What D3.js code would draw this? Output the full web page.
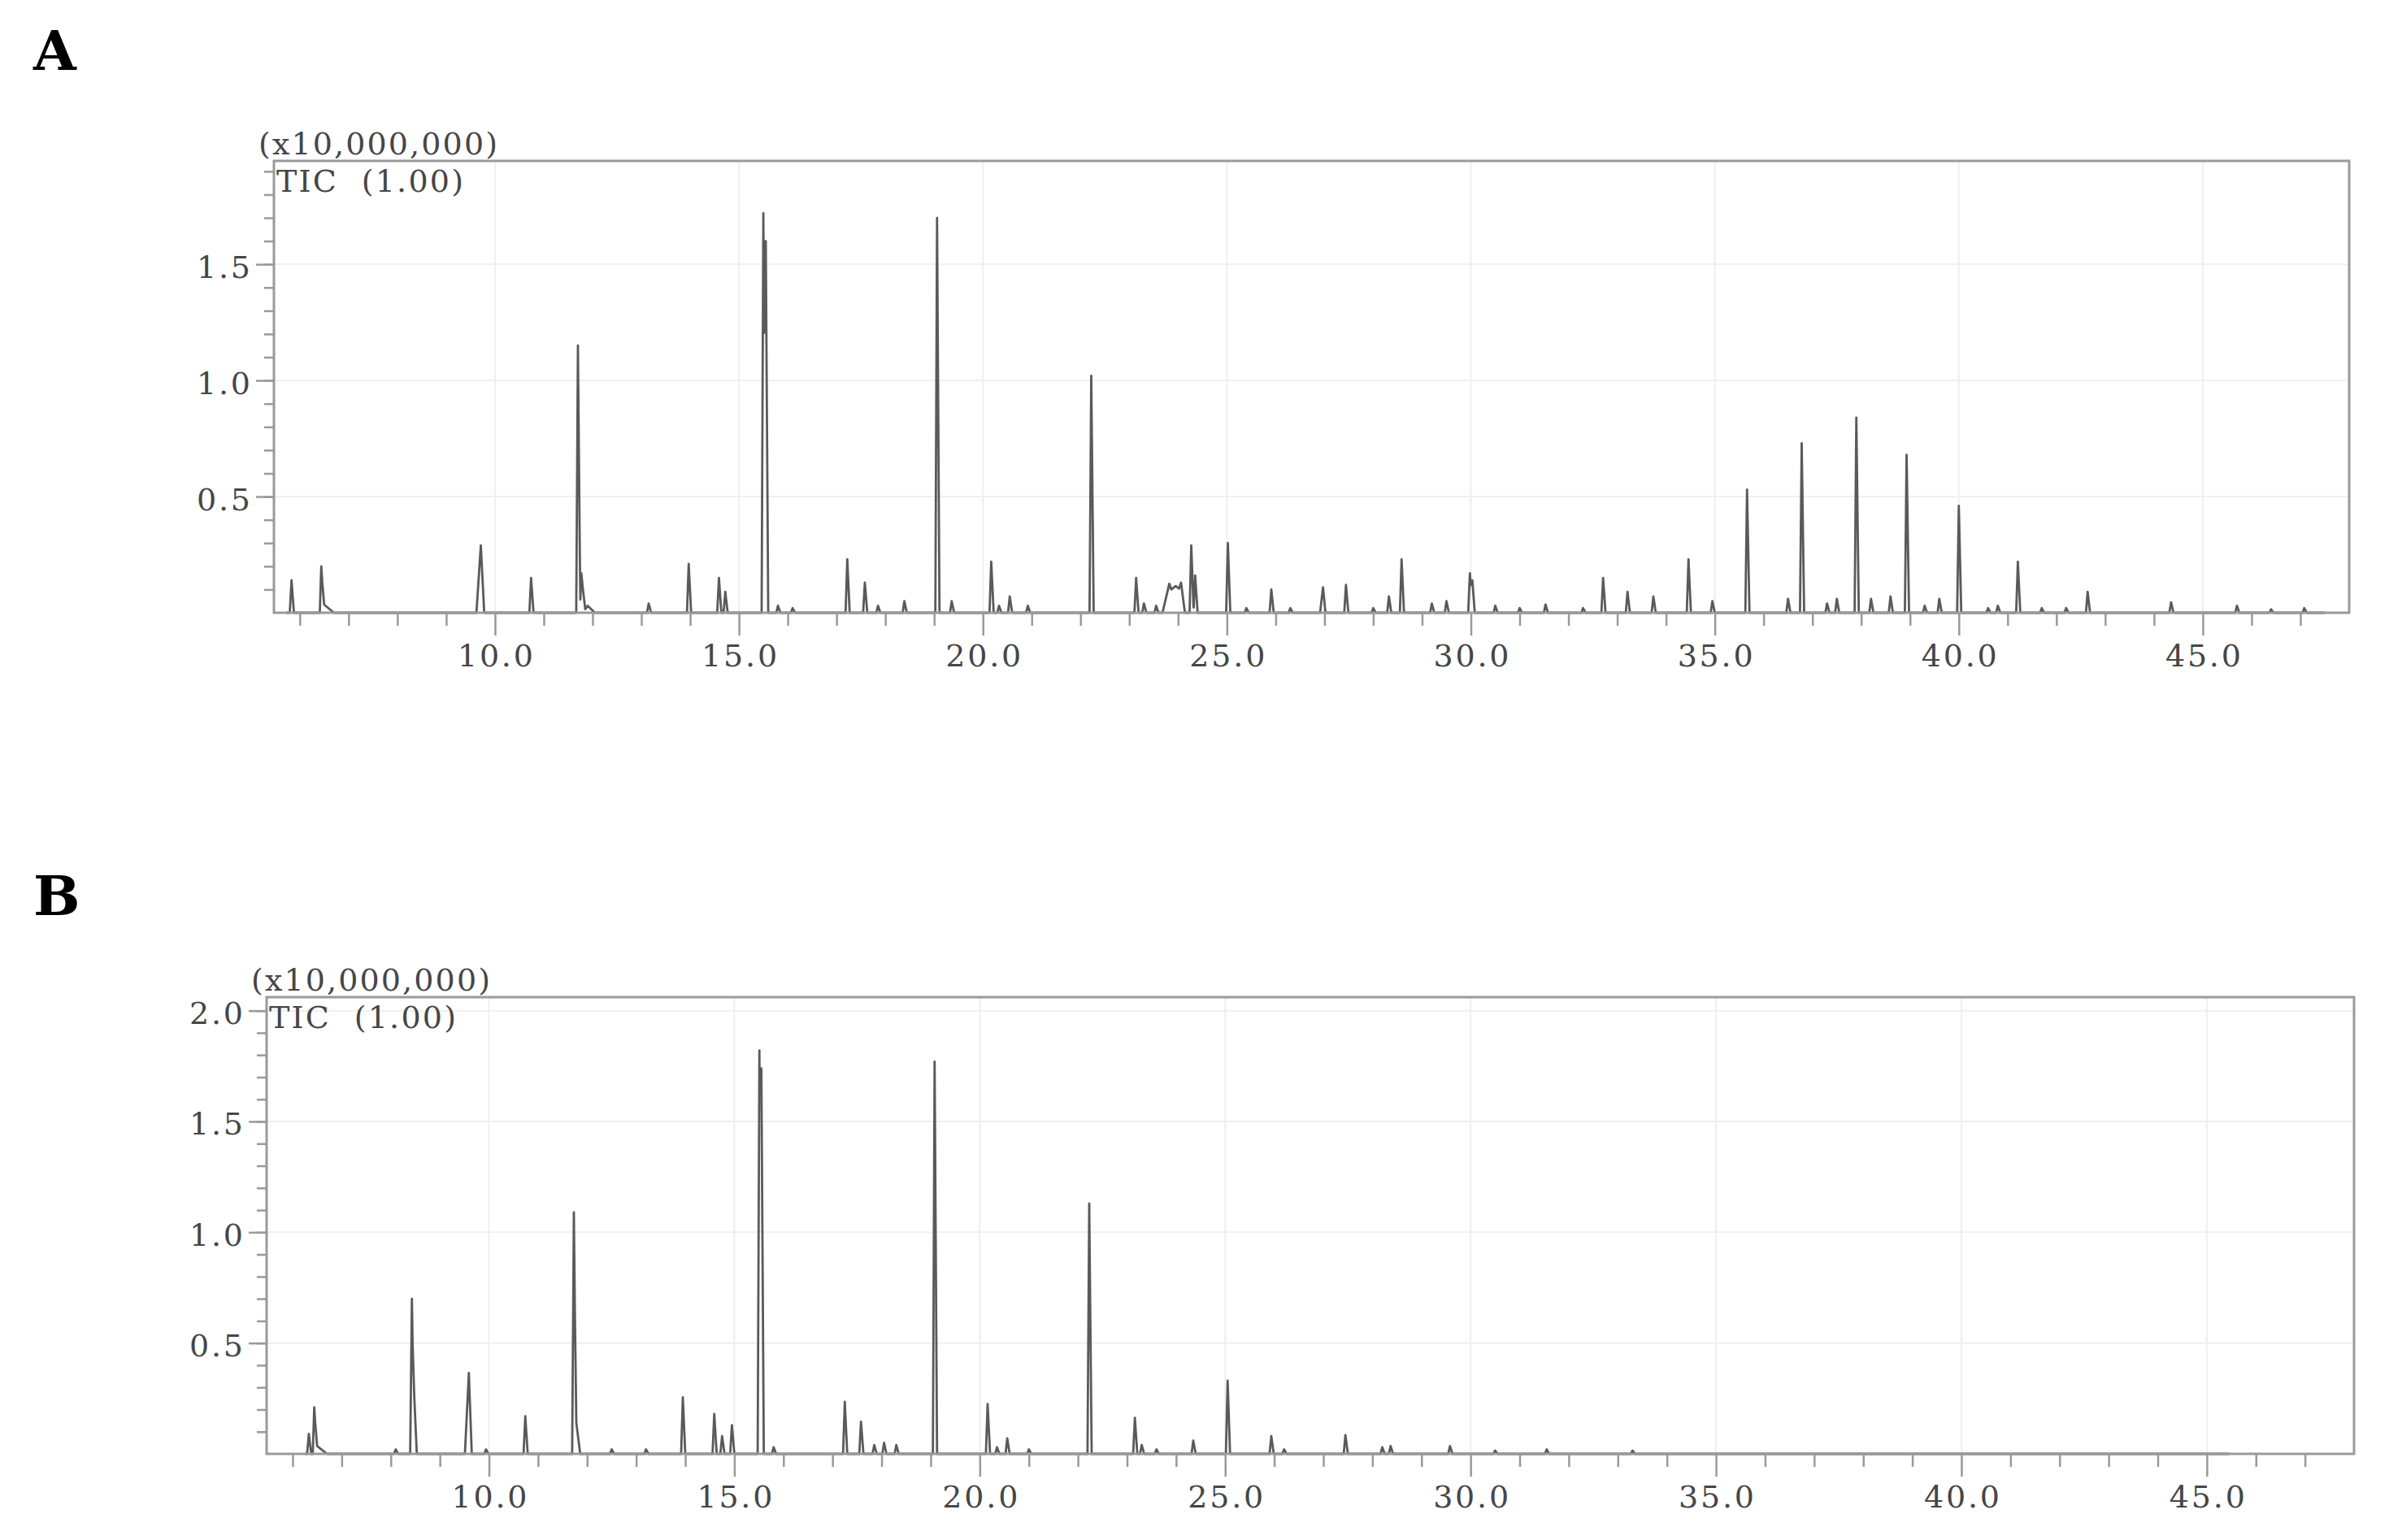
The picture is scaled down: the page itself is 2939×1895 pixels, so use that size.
<!DOCTYPE html>
<html>
<head>
<meta charset="utf-8">
<script src="https://cdn.jsdelivr.net/npm/d3@7"></script>
<style>
  body { margin: 0; background: #fff; }
  text { font-family: "DejaVu Serif", "Liberation Serif", serif; }
</style>
</head>
<body>
<svg id="chart"></svg>
<script>
// retention time (min), intensity (x10,000,000)
const peaksA = [
  [5.83, 0.14], [6.44, 0.20], [6.50, 0.035], [9.71, 0.29], [10.74, 0.15],
  [11.70, 1.15], [11.77, 0.17], [11.9, 0.03], [13.15, 0.04], [13.97, 0.21],
  [14.59, 0.15], [14.72, 0.09], [15.50, 1.72], [15.55, 1.60], [15.80, 0.03],
  [16.1, 0.02], [17.22, 0.23], [17.58, 0.13], [17.85, 0.03], [18.39, 0.05],
  [19.06, 1.70], [19.36, 0.05], [20.17, 0.22], [20.33, 0.03], [20.55, 0.07],
  [20.92, 0.03], [22.22, 1.02], [23.14, 0.15], [23.30, 0.04], [23.55, 0.03],
  [23.82, 0.125], [23.95, 0.115], [24.06, 0.13], [24.27, 0.29],
  [24.35, 0.16], [25.02, 0.30], [25.4, 0.02], [25.91, 0.10], [26.3, 0.02],
  [26.97, 0.11], [27.44, 0.12], [28.0, 0.02], [28.32, 0.07], [28.58, 0.23],
  [29.2, 0.04], [29.5, 0.05], [29.98, 0.17], [30.03, 0.14], [30.5, 0.03],
  [31.0, 0.02], [31.53, 0.035], [32.3, 0.02], [32.71, 0.15], [33.21, 0.09],
  [33.74, 0.07], [34.46, 0.23], [34.95, 0.05], [35.66, 0.53], [36.5, 0.06],
  [36.78, 0.73], [37.3, 0.04], [37.5, 0.06], [37.9, 0.84], [38.2, 0.06],
  [38.6, 0.07], [38.93, 0.68], [39.3, 0.03], [39.6, 0.06], [40.0, 0.46],
  [40.6, 0.02], [40.8, 0.03], [41.21, 0.22], [41.7, 0.02], [42.2, 0.02],
  [42.64, 0.09], [44.35, 0.045], [45.7, 0.03], [46.4, 0.015], [47.08, 0.02]
];
const peaksB = [
  [6.33, 0.09], [6.44, 0.21], [6.50, 0.035], [8.1, 0.02], [8.43, 0.70],
  [8.48, 0.25], [9.59, 0.365], [9.94, 0.02], [10.74, 0.17], [11.73, 1.09],
  [11.78, 0.14], [12.5, 0.02], [13.2, 0.02], [13.95, 0.255], [14.59, 0.18],
  [14.75, 0.08], [14.95, 0.13], [15.51, 1.82], [15.55, 1.74], [15.8, 0.03],
  [17.25, 0.235], [17.58, 0.145], [17.85, 0.04], [18.05, 0.05], [18.3, 0.04],
  [19.08, 1.77], [20.16, 0.225], [20.35, 0.03], [20.56, 0.07], [21.0, 0.02],
  [22.23, 1.13], [23.16, 0.163], [23.3, 0.04], [23.6, 0.02], [24.35, 0.06],
  [25.05, 0.33], [25.94, 0.08], [26.2, 0.02], [27.45, 0.085], [28.2, 0.03],
  [28.37, 0.035], [29.58, 0.035], [30.5, 0.015], [31.55, 0.02], [33.3, 0.015]
];
// broader / tailing peaks: [front width, tail width] in min
const peakWidthA = { 6.44: [0.03, 0.06], 6.50: [0.04, 0.2], 9.71: [0.09, 0.07], 11.77: [0.03, 0.08],
  11.9: [0.1, 0.15], 23.82: [0.14, 0.2], 23.95: [0.15, 0.15], 24.06: [0.2, 0.08], 26.97: [0.06, 0.05] };
const peakWidthB = { 6.44: [0.03, 0.06], 6.50: [0.04, 0.2], 9.59: [0.08, 0.06], 11.78: [0.03, 0.08] };
const runA = [5.72, 47.5];
const runB = [6.25, 45.45];

const timeDomain = [5.47, 48.0];
const timeTicks = [10, 15, 20, 25, 30, 35, 40, 45];
const timeMinor = d3.range(6, 48).filter(t => t % 5 !== 0);
const yTicksA = [0.5, 1.0, 1.5];
const yTicksB = [0.5, 1.0, 1.5, 2.0];
const unitLabel = "(x10,000,000)";
const traceLabel = "TIC  (1.00)";

const svg = d3.select("#chart").attr("width", 2939).attr("height", 1895);
svg.append("rect").attr("width", 2939).attr("height", 1895).attr("fill", "#fff");

const panels = [
  { name: "A", peaks: peaksA, widths: peakWidthA, run: runA, yTicks: yTicksA, yTop: 1.945,
    l: 337, r: 2890, t: 198, b: 754, nameY: 86 },
  { name: "B", peaks: peaksB, widths: peakWidthB, run: runB, yTicks: yTicksB, yTop: 2.061,
    l: 328, r: 2896, t: 1227, b: 1789, nameY: 1126 }
];

const fmt = d => d3.format(".1f")(d);
const txt = "#464646";
const axisCol = "#9a9a9a";

function tracePoints(p) {
  const shape = p.peaks.map(([t, h]) => {
    const w = p.widths[t] || [0.035, 0.05];
    return { t, h, wl: w[0], wr: w[1] };
  });
  const level = s => Math.max(0, d3.max(shape, k =>
    s <= k.t ? k.h * (1 - (k.t - s) / k.wl) : k.h * (1 - (s - k.t) / k.wr)));
  let ts = [p.run[0], p.run[1]];
  shape.forEach(k => ts.push(k.t - k.wl, k.t, k.t + k.wr));
  ts = Array.from(new Set(ts.filter(s => s >= p.run[0] && s <= p.run[1]))).sort((a, b) => a - b);
  return ts.map(s => [s, level(s)]);
}

panels.forEach(p => {
  const g = svg.append("g");
  const x = d3.scaleLinear().domain(timeDomain).range([p.l, p.r]);
  const y = d3.scaleLinear().domain([0, p.yTop]).range([p.b, p.t]);

  // faint grid
  g.append("g").selectAll("line").data(timeTicks).join("line")
    .attr("x1", d => x(d)).attr("x2", d => x(d)).attr("y1", p.t).attr("y2", p.b)
    .attr("stroke", "#efefef").attr("stroke-width", 2);
  g.append("g").selectAll("line").data(p.yTicks).join("line")
    .attr("x1", p.l).attr("x2", p.r).attr("y1", d => y(d)).attr("y2", d => y(d))
    .attr("stroke", "#efefef").attr("stroke-width", 2);

  // trace
  g.append("path").datum(tracePoints(p))
    .attr("d", d3.line().x(d => x(d[0])).y(d => y(d[1])))
    .attr("fill", "none").attr("stroke", "#5a5a5a").attr("stroke-width", 2.8)
    .attr("stroke-linejoin", "round");

  // frame
  g.append("rect").attr("x", p.l).attr("y", p.t)
    .attr("width", p.r - p.l).attr("height", p.b - p.t)
    .attr("fill", "none").attr("stroke", axisCol).attr("stroke-width", 3);

  // x axis
  const xa = g.append("g").attr("transform", `translate(0,${p.b})`)
    .call(d3.axisBottom(x).tickValues(timeTicks).tickSize(28).tickSizeOuter(0).tickFormat(fmt));
  g.append("g").attr("transform", `translate(0,${p.b})`)
    .call(d3.axisBottom(x).tickValues(timeMinor).tickSize(16).tickSizeOuter(0).tickFormat(""));

  // y axis
  const ya = g.append("g").attr("transform", `translate(${p.l},0)`)
    .call(d3.axisLeft(y).tickValues(p.yTicks).tickSize(22).tickSizeOuter(0).tickFormat(fmt));
  g.append("g").attr("transform", `translate(${p.l},0)`)
    .call(d3.axisLeft(y).tickValues(d3.range(1, Math.floor(p.yTop * 10) + 1).map(i => i / 10))
      .tickSize(12).tickSizeOuter(0).tickFormat(""));

  g.selectAll(".domain").remove();
  g.selectAll(".tick line").attr("stroke", axisCol).attr("stroke-width", 2.5);

  xa.selectAll("text")
    .attr("y", 66).attr("dy", null)
    .attr("font-family", "DejaVu Serif").attr("font-size", 38).attr("fill", txt)
    .attr("textLength", 93).attr("lengthAdjust", "spacing");
  ya.selectAll("text")
    .attr("x", -29).attr("dy", null).attr("y", 16)
    .attr("font-family", "DejaVu Serif").attr("font-size", 38).attr("fill", txt)
    .attr("textLength", 66).attr("lengthAdjust", "spacing");

  // headers
  g.append("text").attr("x", p.l - 19).attr("y", p.t - 8)
    .attr("font-size", 38).attr("fill", txt)
    .attr("textLength", 294).attr("lengthAdjust", "spacing")
    .text(unitLabel);
  g.append("text").attr("x", p.l + 3).attr("y", p.t + 38)
    .attr("font-size", 38).attr("fill", txt).style("white-space", "pre")
    .attr("textLength", 230).attr("lengthAdjust", "spacing")
    .text(traceLabel);

  g.append("text").attr("x", 41).attr("y", p.nameY)
    .attr("font-family", "Liberation Serif").attr("font-weight", "bold")
    .attr("font-size", 68).attr("fill", "#000")
    .text(p.name);
});
</script>
</body>
</html>
